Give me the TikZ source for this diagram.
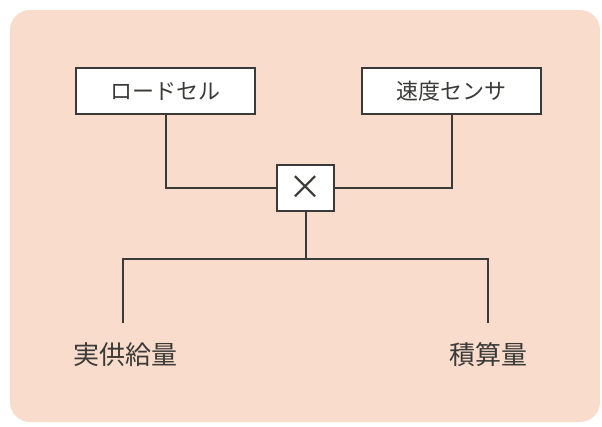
\documentclass[tikz,border=0pt]{standalone}
\usepackage{fontspec}
\newfontfamily\cjk{Noto Sans CJK JP}
\definecolor{bgpeach}{HTML}{F9DCCB}
\definecolor{ink}{HTML}{3A3A38}
\begin{document}
\begin{tikzpicture}[x=1pt,y=-1pt,
  sensorbox/.style={draw=ink,line width=2.4pt,fill=white,minimum width=179pt,minimum height=46pt,inner sep=0pt,text=ink,font=\cjk\fontsize{22}{24}\selectfont},
  mulbox/.style={draw=ink,line width=2.4pt,fill=white,minimum width=57pt,minimum height=46pt,inner sep=0pt,text=ink,font=\cjk\fontsize{34}{36}\selectfont},
  outlabel/.style={text=ink,inner sep=0pt,font=\cjk\fontsize{26}{28}\selectfont},
  wire/.style={draw=ink,line width=2pt}]
\useasboundingbox (0,0) rectangle (602,426);
\fill[white] (0,0) rectangle (602,426);
\fill[bgpeach,rounded corners=20pt] (10,10) rectangle (600,422);
\node[sensorbox] (load) at (165.5,91) {ロードセル};
\node[sensorbox] (speed) at (451.5,91) {速度センサ};
\node[mulbox] (mul) at (305.5,188) {×};
\coordinate (jl) at (123,259);
\coordinate (jr) at (488,259);
\coordinate (jm) at (305.5,259);
\coordinate (el) at (123,323);
\coordinate (er) at (488,323);
\node[outlabel] (supply) at (125,355) {実供給量};
\node[outlabel] (total) at (488,355) {積算量};
\draw[wire] (load.south) |- (mul.west);
\draw[wire] (speed.south) |- (mul.east);
\draw[wire] (mul.south) -- (jm);
\draw[wire] (el) -- (jl) -- (jr) -- (er);
\end{tikzpicture}
\end{document}
